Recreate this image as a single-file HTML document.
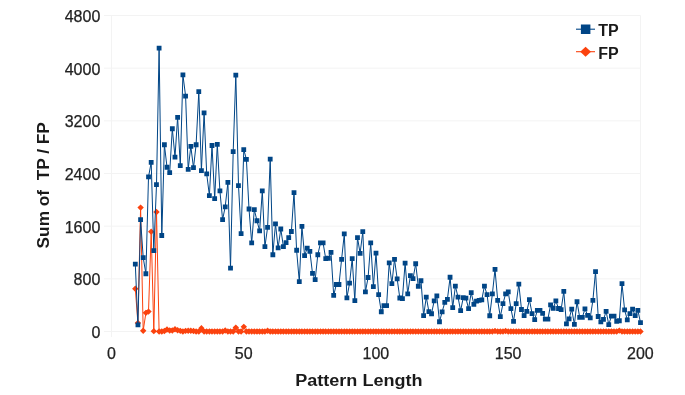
<!DOCTYPE html>
<html><head><meta charset="utf-8"><title>Sum of TP / FP by Pattern Length</title>
<style>html,body{margin:0;padding:0;background:#fff}svg{display:block;font-family:"Liberation Sans",Arial,sans-serif}</style></head><body>
<svg width="685" height="395" viewBox="0 0 685 395">
<rect width="685" height="395" fill="#fff"/>
<path d="M104,331.50H640.5 M104,278.83H640.5 M104,226.17H640.5 M104,173.50H640.5 M104,120.83H640.5 M104,68.17H640.5 M104,15.50H640.5 M111.5,15.5V337 M640.5,15.5V337 M243.75,331.5V337 M376.00,331.5V337 M508.25,331.5V337" stroke="#f3f3f3" stroke-width="1" fill="none"/>
<g font-size="16" fill="#222" stroke="#222" stroke-width="0.25" text-anchor="end">
<text x="100.3" y="338.1">0</text>
<text x="100.3" y="285.4">800</text>
<text x="100.3" y="232.8">1600</text>
<text x="100.3" y="180.1">2400</text>
<text x="100.3" y="127.4">3200</text>
<text x="100.3" y="74.8">4000</text>
<text x="100.3" y="22.1">4800</text>
</g>
<g font-size="16" fill="#222" stroke="#222" stroke-width="0.25" text-anchor="middle">
<text x="111.4" y="358.9">0</text>
<text x="243.7" y="358.9">50</text>
<text x="375.9" y="358.9">100</text>
<text x="508.1" y="358.9">150</text>
<text x="640.4" y="358.9">200</text>
</g>
<text x="358.9" y="385.7" font-size="17.2" font-weight="bold" fill="#1a1a1a" text-anchor="middle" textLength="127.4" lengthAdjust="spacingAndGlyphs">Pattern Length</text>
<text transform="translate(48.5,185.3) rotate(-90)" font-size="17.2" font-weight="bold" fill="#1a1a1a" text-anchor="middle" textLength="126.2" lengthAdjust="spacingAndGlyphs" style="white-space:pre">Sum of  TP / FP</text>
<polyline points="135.3,288.7 137.9,322.9 140.6,207.6 143.2,330.7 145.9,312.9 148.5,311.6 151.2,231.6 153.8,331.2 156.5,211.9 159.1,331.5 161.8,331.5 164.4,331.0 167.0,329.5 169.7,330.5 172.3,330.5 175.0,329.2 177.6,330.2 180.3,330.8 182.9,331.5 185.6,330.8 188.2,330.7 190.8,330.7 193.5,331.0 196.1,331.5 198.8,331.5 201.4,328.3 204.1,331.5 206.7,331.5 209.4,331.5 212.0,331.5 214.7,331.5 217.3,331.5 219.9,331.5 222.6,331.5 225.2,330.5 227.9,331.5 230.5,331.5 233.2,331.5 235.8,327.6 238.5,331.5 241.1,331.5 243.8,326.8 246.4,331.5 249.0,331.5 251.7,331.5 254.3,331.5 257.0,331.5 259.6,331.5 262.3,331.5 264.9,331.5 267.6,330.7 270.2,331.5 272.8,331.5 275.5,331.5 278.1,331.5 280.8,331.5 283.4,331.5 286.1,331.5 288.7,331.5 291.4,331.5 294.0,331.5 296.6,331.5 299.3,331.5 301.9,331.5 304.6,331.5 307.2,331.5 309.9,331.5 312.5,331.5 315.2,331.5 317.8,331.5 320.5,331.5 323.1,331.5 325.7,331.5 328.4,331.5 331.0,331.5 333.7,331.5 336.3,331.5 339.0,331.5 341.6,331.5 344.3,331.5 346.9,331.5 349.6,331.5 352.2,331.5 354.8,331.5 357.5,331.5 360.1,331.5 362.8,331.5 365.4,331.5 368.1,331.5 370.7,331.5 373.4,331.5 376.0,331.5 378.6,331.5 381.3,331.5 383.9,331.5 386.6,331.5 389.2,331.5 391.9,331.5 394.5,331.5 397.2,331.5 399.8,331.5 402.4,331.5 405.1,331.5 407.7,331.5 410.4,331.5 413.0,331.5 415.7,331.5 418.3,331.5 421.0,331.5 423.6,331.5 426.3,331.5 428.9,331.5 431.5,331.5 434.2,331.5 436.8,331.5 439.5,331.5 442.1,331.5 444.8,331.5 447.4,331.5 450.1,331.5 452.7,331.5 455.4,331.5 458.0,331.5 460.6,331.5 463.3,331.5 465.9,331.5 468.6,331.5 471.2,331.5 473.9,331.5 476.5,331.5 479.2,331.5 481.8,331.5 484.4,331.5 487.1,331.5 489.7,331.5 492.4,331.5 495.0,331.0 497.7,331.5 500.3,331.5 503.0,331.5 505.6,331.0 508.2,331.5 510.9,331.5 513.5,331.5 516.2,331.5 518.8,331.5 521.5,331.5 524.1,331.5 526.8,331.5 529.4,331.5 532.1,331.5 534.7,331.5 537.3,331.5 540.0,331.5 542.6,331.5 545.3,331.5 547.9,331.5 550.6,331.5 553.2,331.5 555.9,331.5 558.5,331.5 561.1,331.5 563.8,331.5 566.4,331.5 569.1,331.5 571.7,331.5 574.4,331.5 577.0,331.5 579.7,331.5 582.3,331.5 585.0,331.5 587.6,331.5 590.2,331.5 592.9,331.5 595.5,331.5 598.2,331.5 600.8,331.5 603.5,331.5 606.1,331.5 608.8,331.5 611.4,331.5 614.0,331.5 616.7,331.5 619.3,330.6 622.0,331.5 624.6,331.5 627.3,331.5 629.9,331.5 632.6,331.5 635.2,331.5 637.9,331.5 640.5,331.5" fill="none" stroke="#fb420e" stroke-width="1" stroke-linejoin="round"/>
<path d="M135.3,285.51l3.2,3.2l-3.2,3.2l-3.2,-3.2zM137.9,319.74l3.2,3.2l-3.2,3.2l-3.2,-3.2zM140.6,204.40l3.2,3.2l-3.2,3.2l-3.2,-3.2zM143.2,327.51l3.2,3.2l-3.2,3.2l-3.2,-3.2zM145.9,309.67l3.2,3.2l-3.2,3.2l-3.2,-3.2zM148.5,308.42l3.2,3.2l-3.2,3.2l-3.2,-3.2zM151.2,228.43l3.2,3.2l-3.2,3.2l-3.2,-3.2zM153.8,327.97l3.2,3.2l-3.2,3.2l-3.2,-3.2zM156.5,208.75l3.2,3.2l-3.2,3.2l-3.2,-3.2zM159.1,328.30l3.2,3.2l-3.2,3.2l-3.2,-3.2zM161.8,328.30l3.2,3.2l-3.2,3.2l-3.2,-3.2zM164.4,327.77l3.2,3.2l-3.2,3.2l-3.2,-3.2zM167.0,326.32l3.2,3.2l-3.2,3.2l-3.2,-3.2zM169.7,327.31l3.2,3.2l-3.2,3.2l-3.2,-3.2zM172.3,327.31l3.2,3.2l-3.2,3.2l-3.2,-3.2zM175.0,326.00l3.2,3.2l-3.2,3.2l-3.2,-3.2zM177.6,326.98l3.2,3.2l-3.2,3.2l-3.2,-3.2zM180.3,327.64l3.2,3.2l-3.2,3.2l-3.2,-3.2zM182.9,328.30l3.2,3.2l-3.2,3.2l-3.2,-3.2zM185.6,327.64l3.2,3.2l-3.2,3.2l-3.2,-3.2zM188.2,327.51l3.2,3.2l-3.2,3.2l-3.2,-3.2zM190.8,327.51l3.2,3.2l-3.2,3.2l-3.2,-3.2zM193.5,327.77l3.2,3.2l-3.2,3.2l-3.2,-3.2zM196.1,328.30l3.2,3.2l-3.2,3.2l-3.2,-3.2zM198.8,328.30l3.2,3.2l-3.2,3.2l-3.2,-3.2zM201.4,325.07l3.2,3.2l-3.2,3.2l-3.2,-3.2zM204.1,328.30l3.2,3.2l-3.2,3.2l-3.2,-3.2zM206.7,328.30l3.2,3.2l-3.2,3.2l-3.2,-3.2zM209.4,328.30l3.2,3.2l-3.2,3.2l-3.2,-3.2zM212.0,328.30l3.2,3.2l-3.2,3.2l-3.2,-3.2zM214.7,328.30l3.2,3.2l-3.2,3.2l-3.2,-3.2zM217.3,328.30l3.2,3.2l-3.2,3.2l-3.2,-3.2zM219.9,328.30l3.2,3.2l-3.2,3.2l-3.2,-3.2zM222.6,328.30l3.2,3.2l-3.2,3.2l-3.2,-3.2zM225.2,327.31l3.2,3.2l-3.2,3.2l-3.2,-3.2zM227.9,328.30l3.2,3.2l-3.2,3.2l-3.2,-3.2zM230.5,328.30l3.2,3.2l-3.2,3.2l-3.2,-3.2zM233.2,328.30l3.2,3.2l-3.2,3.2l-3.2,-3.2zM235.8,324.42l3.2,3.2l-3.2,3.2l-3.2,-3.2zM238.5,328.30l3.2,3.2l-3.2,3.2l-3.2,-3.2zM241.1,328.30l3.2,3.2l-3.2,3.2l-3.2,-3.2zM243.8,323.63l3.2,3.2l-3.2,3.2l-3.2,-3.2zM246.4,328.30l3.2,3.2l-3.2,3.2l-3.2,-3.2zM249.0,328.30l3.2,3.2l-3.2,3.2l-3.2,-3.2zM251.7,328.30l3.2,3.2l-3.2,3.2l-3.2,-3.2zM254.3,328.30l3.2,3.2l-3.2,3.2l-3.2,-3.2zM257.0,328.30l3.2,3.2l-3.2,3.2l-3.2,-3.2zM259.6,328.30l3.2,3.2l-3.2,3.2l-3.2,-3.2zM262.3,328.30l3.2,3.2l-3.2,3.2l-3.2,-3.2zM264.9,328.30l3.2,3.2l-3.2,3.2l-3.2,-3.2zM267.6,327.51l3.2,3.2l-3.2,3.2l-3.2,-3.2zM270.2,328.30l3.2,3.2l-3.2,3.2l-3.2,-3.2zM272.8,328.30l3.2,3.2l-3.2,3.2l-3.2,-3.2zM275.5,328.30l3.2,3.2l-3.2,3.2l-3.2,-3.2zM278.1,328.30l3.2,3.2l-3.2,3.2l-3.2,-3.2zM280.8,328.30l3.2,3.2l-3.2,3.2l-3.2,-3.2zM283.4,328.30l3.2,3.2l-3.2,3.2l-3.2,-3.2zM286.1,328.30l3.2,3.2l-3.2,3.2l-3.2,-3.2zM288.7,328.30l3.2,3.2l-3.2,3.2l-3.2,-3.2zM291.4,328.30l3.2,3.2l-3.2,3.2l-3.2,-3.2zM294.0,328.30l3.2,3.2l-3.2,3.2l-3.2,-3.2zM296.6,328.30l3.2,3.2l-3.2,3.2l-3.2,-3.2zM299.3,328.30l3.2,3.2l-3.2,3.2l-3.2,-3.2zM301.9,328.30l3.2,3.2l-3.2,3.2l-3.2,-3.2zM304.6,328.30l3.2,3.2l-3.2,3.2l-3.2,-3.2zM307.2,328.30l3.2,3.2l-3.2,3.2l-3.2,-3.2zM309.9,328.30l3.2,3.2l-3.2,3.2l-3.2,-3.2zM312.5,328.30l3.2,3.2l-3.2,3.2l-3.2,-3.2zM315.2,328.30l3.2,3.2l-3.2,3.2l-3.2,-3.2zM317.8,328.30l3.2,3.2l-3.2,3.2l-3.2,-3.2zM320.5,328.30l3.2,3.2l-3.2,3.2l-3.2,-3.2zM323.1,328.30l3.2,3.2l-3.2,3.2l-3.2,-3.2zM325.7,328.30l3.2,3.2l-3.2,3.2l-3.2,-3.2zM328.4,328.30l3.2,3.2l-3.2,3.2l-3.2,-3.2zM331.0,328.30l3.2,3.2l-3.2,3.2l-3.2,-3.2zM333.7,328.30l3.2,3.2l-3.2,3.2l-3.2,-3.2zM336.3,328.30l3.2,3.2l-3.2,3.2l-3.2,-3.2zM339.0,328.30l3.2,3.2l-3.2,3.2l-3.2,-3.2zM341.6,328.30l3.2,3.2l-3.2,3.2l-3.2,-3.2zM344.3,328.30l3.2,3.2l-3.2,3.2l-3.2,-3.2zM346.9,328.30l3.2,3.2l-3.2,3.2l-3.2,-3.2zM349.6,328.30l3.2,3.2l-3.2,3.2l-3.2,-3.2zM352.2,328.30l3.2,3.2l-3.2,3.2l-3.2,-3.2zM354.8,328.30l3.2,3.2l-3.2,3.2l-3.2,-3.2zM357.5,328.30l3.2,3.2l-3.2,3.2l-3.2,-3.2zM360.1,328.30l3.2,3.2l-3.2,3.2l-3.2,-3.2zM362.8,328.30l3.2,3.2l-3.2,3.2l-3.2,-3.2zM365.4,328.30l3.2,3.2l-3.2,3.2l-3.2,-3.2zM368.1,328.30l3.2,3.2l-3.2,3.2l-3.2,-3.2zM370.7,328.30l3.2,3.2l-3.2,3.2l-3.2,-3.2zM373.4,328.30l3.2,3.2l-3.2,3.2l-3.2,-3.2zM376.0,328.30l3.2,3.2l-3.2,3.2l-3.2,-3.2zM378.6,328.30l3.2,3.2l-3.2,3.2l-3.2,-3.2zM381.3,328.30l3.2,3.2l-3.2,3.2l-3.2,-3.2zM383.9,328.30l3.2,3.2l-3.2,3.2l-3.2,-3.2zM386.6,328.30l3.2,3.2l-3.2,3.2l-3.2,-3.2zM389.2,328.30l3.2,3.2l-3.2,3.2l-3.2,-3.2zM391.9,328.30l3.2,3.2l-3.2,3.2l-3.2,-3.2zM394.5,328.30l3.2,3.2l-3.2,3.2l-3.2,-3.2zM397.2,328.30l3.2,3.2l-3.2,3.2l-3.2,-3.2zM399.8,328.30l3.2,3.2l-3.2,3.2l-3.2,-3.2zM402.4,328.30l3.2,3.2l-3.2,3.2l-3.2,-3.2zM405.1,328.30l3.2,3.2l-3.2,3.2l-3.2,-3.2zM407.7,328.30l3.2,3.2l-3.2,3.2l-3.2,-3.2zM410.4,328.30l3.2,3.2l-3.2,3.2l-3.2,-3.2zM413.0,328.30l3.2,3.2l-3.2,3.2l-3.2,-3.2zM415.7,328.30l3.2,3.2l-3.2,3.2l-3.2,-3.2zM418.3,328.30l3.2,3.2l-3.2,3.2l-3.2,-3.2zM421.0,328.30l3.2,3.2l-3.2,3.2l-3.2,-3.2zM423.6,328.30l3.2,3.2l-3.2,3.2l-3.2,-3.2zM426.3,328.30l3.2,3.2l-3.2,3.2l-3.2,-3.2zM428.9,328.30l3.2,3.2l-3.2,3.2l-3.2,-3.2zM431.5,328.30l3.2,3.2l-3.2,3.2l-3.2,-3.2zM434.2,328.30l3.2,3.2l-3.2,3.2l-3.2,-3.2zM436.8,328.30l3.2,3.2l-3.2,3.2l-3.2,-3.2zM439.5,328.30l3.2,3.2l-3.2,3.2l-3.2,-3.2zM442.1,328.30l3.2,3.2l-3.2,3.2l-3.2,-3.2zM444.8,328.30l3.2,3.2l-3.2,3.2l-3.2,-3.2zM447.4,328.30l3.2,3.2l-3.2,3.2l-3.2,-3.2zM450.1,328.30l3.2,3.2l-3.2,3.2l-3.2,-3.2zM452.7,328.30l3.2,3.2l-3.2,3.2l-3.2,-3.2zM455.4,328.30l3.2,3.2l-3.2,3.2l-3.2,-3.2zM458.0,328.30l3.2,3.2l-3.2,3.2l-3.2,-3.2zM460.6,328.30l3.2,3.2l-3.2,3.2l-3.2,-3.2zM463.3,328.30l3.2,3.2l-3.2,3.2l-3.2,-3.2zM465.9,328.30l3.2,3.2l-3.2,3.2l-3.2,-3.2zM468.6,328.30l3.2,3.2l-3.2,3.2l-3.2,-3.2zM471.2,328.30l3.2,3.2l-3.2,3.2l-3.2,-3.2zM473.9,328.30l3.2,3.2l-3.2,3.2l-3.2,-3.2zM476.5,328.30l3.2,3.2l-3.2,3.2l-3.2,-3.2zM479.2,328.30l3.2,3.2l-3.2,3.2l-3.2,-3.2zM481.8,328.30l3.2,3.2l-3.2,3.2l-3.2,-3.2zM484.4,328.30l3.2,3.2l-3.2,3.2l-3.2,-3.2zM487.1,328.30l3.2,3.2l-3.2,3.2l-3.2,-3.2zM489.7,328.30l3.2,3.2l-3.2,3.2l-3.2,-3.2zM492.4,328.30l3.2,3.2l-3.2,3.2l-3.2,-3.2zM495.0,327.77l3.2,3.2l-3.2,3.2l-3.2,-3.2zM497.7,328.30l3.2,3.2l-3.2,3.2l-3.2,-3.2zM500.3,328.30l3.2,3.2l-3.2,3.2l-3.2,-3.2zM503.0,328.30l3.2,3.2l-3.2,3.2l-3.2,-3.2zM505.6,327.77l3.2,3.2l-3.2,3.2l-3.2,-3.2zM508.2,328.30l3.2,3.2l-3.2,3.2l-3.2,-3.2zM510.9,328.30l3.2,3.2l-3.2,3.2l-3.2,-3.2zM513.5,328.30l3.2,3.2l-3.2,3.2l-3.2,-3.2zM516.2,328.30l3.2,3.2l-3.2,3.2l-3.2,-3.2zM518.8,328.30l3.2,3.2l-3.2,3.2l-3.2,-3.2zM521.5,328.30l3.2,3.2l-3.2,3.2l-3.2,-3.2zM524.1,328.30l3.2,3.2l-3.2,3.2l-3.2,-3.2zM526.8,328.30l3.2,3.2l-3.2,3.2l-3.2,-3.2zM529.4,328.30l3.2,3.2l-3.2,3.2l-3.2,-3.2zM532.1,328.30l3.2,3.2l-3.2,3.2l-3.2,-3.2zM534.7,328.30l3.2,3.2l-3.2,3.2l-3.2,-3.2zM537.3,328.30l3.2,3.2l-3.2,3.2l-3.2,-3.2zM540.0,328.30l3.2,3.2l-3.2,3.2l-3.2,-3.2zM542.6,328.30l3.2,3.2l-3.2,3.2l-3.2,-3.2zM545.3,328.30l3.2,3.2l-3.2,3.2l-3.2,-3.2zM547.9,328.30l3.2,3.2l-3.2,3.2l-3.2,-3.2zM550.6,328.30l3.2,3.2l-3.2,3.2l-3.2,-3.2zM553.2,328.30l3.2,3.2l-3.2,3.2l-3.2,-3.2zM555.9,328.30l3.2,3.2l-3.2,3.2l-3.2,-3.2zM558.5,328.30l3.2,3.2l-3.2,3.2l-3.2,-3.2zM561.1,328.30l3.2,3.2l-3.2,3.2l-3.2,-3.2zM563.8,328.30l3.2,3.2l-3.2,3.2l-3.2,-3.2zM566.4,328.30l3.2,3.2l-3.2,3.2l-3.2,-3.2zM569.1,328.30l3.2,3.2l-3.2,3.2l-3.2,-3.2zM571.7,328.30l3.2,3.2l-3.2,3.2l-3.2,-3.2zM574.4,328.30l3.2,3.2l-3.2,3.2l-3.2,-3.2zM577.0,328.30l3.2,3.2l-3.2,3.2l-3.2,-3.2zM579.7,328.30l3.2,3.2l-3.2,3.2l-3.2,-3.2zM582.3,328.30l3.2,3.2l-3.2,3.2l-3.2,-3.2zM585.0,328.30l3.2,3.2l-3.2,3.2l-3.2,-3.2zM587.6,328.30l3.2,3.2l-3.2,3.2l-3.2,-3.2zM590.2,328.30l3.2,3.2l-3.2,3.2l-3.2,-3.2zM592.9,328.30l3.2,3.2l-3.2,3.2l-3.2,-3.2zM595.5,328.30l3.2,3.2l-3.2,3.2l-3.2,-3.2zM598.2,328.30l3.2,3.2l-3.2,3.2l-3.2,-3.2zM600.8,328.30l3.2,3.2l-3.2,3.2l-3.2,-3.2zM603.5,328.30l3.2,3.2l-3.2,3.2l-3.2,-3.2zM606.1,328.30l3.2,3.2l-3.2,3.2l-3.2,-3.2zM608.8,328.30l3.2,3.2l-3.2,3.2l-3.2,-3.2zM611.4,328.30l3.2,3.2l-3.2,3.2l-3.2,-3.2zM614.0,328.30l3.2,3.2l-3.2,3.2l-3.2,-3.2zM616.7,328.30l3.2,3.2l-3.2,3.2l-3.2,-3.2zM619.3,327.38l3.2,3.2l-3.2,3.2l-3.2,-3.2zM622.0,328.30l3.2,3.2l-3.2,3.2l-3.2,-3.2zM624.6,328.30l3.2,3.2l-3.2,3.2l-3.2,-3.2zM627.3,328.30l3.2,3.2l-3.2,3.2l-3.2,-3.2zM629.9,328.30l3.2,3.2l-3.2,3.2l-3.2,-3.2zM632.6,328.30l3.2,3.2l-3.2,3.2l-3.2,-3.2zM635.2,328.30l3.2,3.2l-3.2,3.2l-3.2,-3.2zM637.9,328.30l3.2,3.2l-3.2,3.2l-3.2,-3.2zM640.5,328.30l3.2,3.2l-3.2,3.2l-3.2,-3.2z" fill="#fb420e"/>
<polyline points="135.3,264.1 137.9,324.8 140.6,219.7 143.2,257.6 145.9,273.8 148.5,176.9 151.2,162.4 153.8,250.7 156.5,184.7 159.1,48.2 161.8,235.5 164.4,144.7 167.0,167.2 169.7,172.6 172.3,128.7 175.0,157.0 177.6,117.4 180.3,165.6 182.9,74.8 185.6,96.1 188.2,169.3 190.8,146.4 193.5,167.7 196.1,144.7 198.8,91.7 201.4,170.5 204.1,112.9 206.7,173.8 209.4,195.6 212.0,145.5 214.7,198.6 217.3,144.3 219.9,190.8 222.6,219.7 225.2,206.8 227.9,182.5 230.5,268.0 233.2,151.7 235.8,75.1 238.5,185.6 241.1,233.7 243.8,149.7 246.4,159.3 249.0,209.0 251.7,242.9 254.3,209.7 257.0,220.8 259.6,230.8 262.3,190.9 264.9,246.7 267.6,227.4 270.2,159.1 272.8,254.7 275.5,223.9 278.1,247.9 280.8,229.0 283.4,246.6 286.1,242.6 288.7,237.6 291.4,231.5 294.0,192.5 296.6,250.3 299.3,281.6 301.9,226.4 304.6,255.6 307.2,248.2 309.9,251.4 312.5,273.4 315.2,279.6 317.8,254.7 320.5,242.9 323.1,242.9 325.7,258.6 328.4,258.2 331.0,252.3 333.7,295.4 336.3,284.5 339.0,284.5 341.6,259.3 344.3,233.9 346.9,297.8 349.6,283.0 352.2,258.6 354.8,300.7 357.5,237.6 360.1,253.3 362.8,231.7 365.4,291.9 368.1,277.5 370.7,242.9 373.4,286.5 376.0,253.1 378.6,294.7 381.3,311.8 383.9,305.6 386.6,305.6 389.2,263.0 391.9,283.6 394.5,259.3 397.2,279.0 399.8,298.0 402.4,298.6 405.1,263.1 407.7,293.8 410.4,275.6 413.0,278.7 415.7,263.8 418.3,286.3 421.0,280.7 423.6,315.6 426.3,297.1 428.9,311.7 431.5,313.7 434.2,300.8 436.8,295.9 439.5,321.8 442.1,311.9 444.8,302.5 447.4,299.4 450.1,277.3 452.7,307.6 455.4,286.1 458.0,297.1 460.6,310.7 463.3,297.5 465.9,298.2 468.6,308.6 471.2,292.7 473.9,304.3 476.5,301.2 479.2,300.4 481.8,299.8 484.4,286.1 487.1,294.7 489.7,315.8 492.4,293.8 495.0,269.3 497.7,300.4 500.3,316.6 503.0,303.7 505.6,293.8 508.2,291.8 510.9,308.6 513.5,321.3 516.2,303.7 518.8,284.0 521.5,309.5 524.1,315.7 526.8,311.4 529.4,299.7 532.1,313.6 534.7,319.6 537.3,310.4 540.0,310.4 542.6,313.4 545.3,319.1 547.9,319.1 550.6,304.8 553.2,308.3 555.9,300.9 558.5,308.5 561.1,309.7 563.8,291.5 566.4,323.9 569.1,318.9 571.7,309.1 574.4,324.5 577.0,301.7 579.7,317.3 582.3,317.3 585.0,308.9 587.6,315.4 590.2,317.9 592.9,300.3 595.5,271.6 598.2,316.5 600.8,321.8 603.5,319.4 606.1,311.4 608.8,324.7 611.4,316.1 614.0,316.1 616.7,321.2 619.3,320.8 622.0,283.7 624.6,309.9 627.3,319.8 629.9,313.6 632.6,309.1 635.2,315.7 637.9,310.4 640.5,322.6" fill="none" stroke="#004586" stroke-width="1" stroke-linejoin="round"/>
<path d="M132.91,261.69h4.8v4.8h-4.8zM135.55,322.39h4.8v4.8h-4.8zM138.19,217.32h4.8v4.8h-4.8zM140.84,255.23h4.8v4.8h-4.8zM143.48,271.36h4.8v4.8h-4.8zM146.13,174.52h4.8v4.8h-4.8zM148.78,159.97h4.8v4.8h-4.8zM151.42,248.26h4.8v4.8h-4.8zM154.06,182.29h4.8v4.8h-4.8zM156.71,45.82h4.8v4.8h-4.8zM159.35,233.12h4.8v4.8h-4.8zM162.00,142.33h4.8v4.8h-4.8zM164.65,164.85h4.8v4.8h-4.8zM167.29,170.18h4.8v4.8h-4.8zM169.94,126.33h4.8v4.8h-4.8zM172.58,154.64h4.8v4.8h-4.8zM175.22,115.01h4.8v4.8h-4.8zM177.87,163.20h4.8v4.8h-4.8zM180.52,72.42h4.8v4.8h-4.8zM183.16,93.75h4.8v4.8h-4.8zM185.80,166.89h4.8v4.8h-4.8zM188.45,143.98h4.8v4.8h-4.8zM191.09,165.31h4.8v4.8h-4.8zM193.74,142.33h4.8v4.8h-4.8zM196.38,89.27h4.8v4.8h-4.8zM199.03,168.14h4.8v4.8h-4.8zM201.67,110.53h4.8v4.8h-4.8zM204.32,171.43h4.8v4.8h-4.8zM206.97,193.22h4.8v4.8h-4.8zM209.61,143.12h4.8v4.8h-4.8zM212.25,196.18h4.8v4.8h-4.8zM214.90,141.94h4.8v4.8h-4.8zM217.54,188.41h4.8v4.8h-4.8zM220.19,217.32h4.8v4.8h-4.8zM222.84,204.41h4.8v4.8h-4.8zM225.48,180.05h4.8v4.8h-4.8zM228.12,265.64h4.8v4.8h-4.8zM230.77,149.31h4.8v4.8h-4.8zM233.41,72.68h4.8v4.8h-4.8zM236.06,183.21h4.8v4.8h-4.8zM238.70,231.27h4.8v4.8h-4.8zM241.35,147.27h4.8v4.8h-4.8zM244.00,156.88h4.8v4.8h-4.8zM246.64,206.58h4.8v4.8h-4.8zM249.28,240.49h4.8v4.8h-4.8zM251.93,207.31h4.8v4.8h-4.8zM254.58,218.37h4.8v4.8h-4.8zM257.22,228.38h4.8v4.8h-4.8zM259.87,188.48h4.8v4.8h-4.8zM262.51,244.31h4.8v4.8h-4.8zM265.16,225.02h4.8v4.8h-4.8zM267.80,156.68h4.8v4.8h-4.8zM270.45,252.34h4.8v4.8h-4.8zM273.09,221.53h4.8v4.8h-4.8zM275.74,245.49h4.8v4.8h-4.8zM278.38,226.60h4.8v4.8h-4.8zM281.03,244.24h4.8v4.8h-4.8zM283.67,240.16h4.8v4.8h-4.8zM286.32,235.22h4.8v4.8h-4.8zM288.96,229.10h4.8v4.8h-4.8zM291.61,190.13h4.8v4.8h-4.8zM294.25,247.86h4.8v4.8h-4.8zM296.89,279.20h4.8v4.8h-4.8zM299.54,223.96h4.8v4.8h-4.8zM302.19,253.19h4.8v4.8h-4.8zM304.83,245.82h4.8v4.8h-4.8zM307.48,249.05h4.8v4.8h-4.8zM310.12,271.04h4.8v4.8h-4.8zM312.76,277.16h4.8v4.8h-4.8zM315.41,252.34h4.8v4.8h-4.8zM318.06,240.49h4.8v4.8h-4.8zM320.70,240.49h4.8v4.8h-4.8zM323.35,256.22h4.8v4.8h-4.8zM325.99,255.83h4.8v4.8h-4.8zM328.63,249.90h4.8v4.8h-4.8zM331.28,292.96h4.8v4.8h-4.8zM333.93,282.10h4.8v4.8h-4.8zM336.57,282.10h4.8v4.8h-4.8zM339.22,256.88h4.8v4.8h-4.8zM341.86,231.53h4.8v4.8h-4.8zM344.50,295.39h4.8v4.8h-4.8zM347.15,280.65h4.8v4.8h-4.8zM349.80,256.22h4.8v4.8h-4.8zM352.44,298.29h4.8v4.8h-4.8zM355.09,235.22h4.8v4.8h-4.8zM357.73,250.89h4.8v4.8h-4.8zM360.38,229.30h4.8v4.8h-4.8zM363.02,289.47h4.8v4.8h-4.8zM365.67,275.12h4.8v4.8h-4.8zM368.31,240.49h4.8v4.8h-4.8zM370.96,284.14h4.8v4.8h-4.8zM373.60,250.69h4.8v4.8h-4.8zM376.25,292.30h4.8v4.8h-4.8zM378.89,309.35h4.8v4.8h-4.8zM381.54,303.16h4.8v4.8h-4.8zM384.18,303.16h4.8v4.8h-4.8zM386.83,260.57h4.8v4.8h-4.8zM389.47,281.24h4.8v4.8h-4.8zM392.12,256.88h4.8v4.8h-4.8zM394.76,276.57h4.8v4.8h-4.8zM397.41,295.59h4.8v4.8h-4.8zM400.05,296.18h4.8v4.8h-4.8zM402.70,260.70h4.8v4.8h-4.8zM405.34,291.44h4.8v4.8h-4.8zM407.99,273.21h4.8v4.8h-4.8zM410.63,276.30h4.8v4.8h-4.8zM413.28,261.36h4.8v4.8h-4.8zM415.92,283.87h4.8v4.8h-4.8zM418.56,278.34h4.8v4.8h-4.8zM421.21,313.17h4.8v4.8h-4.8zM423.86,294.74h4.8v4.8h-4.8zM426.50,309.28h4.8v4.8h-4.8zM429.15,311.33h4.8v4.8h-4.8zM431.79,298.42h4.8v4.8h-4.8zM434.44,293.48h4.8v4.8h-4.8zM437.08,319.36h4.8v4.8h-4.8zM439.73,309.48h4.8v4.8h-4.8zM442.37,300.07h4.8v4.8h-4.8zM445.02,296.97h4.8v4.8h-4.8zM447.66,274.85h4.8v4.8h-4.8zM450.31,305.20h4.8v4.8h-4.8zM452.95,283.68h4.8v4.8h-4.8zM455.60,294.74h4.8v4.8h-4.8zM458.24,308.30h4.8v4.8h-4.8zM460.89,295.13h4.8v4.8h-4.8zM463.53,295.79h4.8v4.8h-4.8zM466.18,306.19h4.8v4.8h-4.8zM468.82,290.26h4.8v4.8h-4.8zM471.47,301.91h4.8v4.8h-4.8zM474.11,298.82h4.8v4.8h-4.8zM476.76,298.03h4.8v4.8h-4.8zM479.40,297.43h4.8v4.8h-4.8zM482.05,283.68h4.8v4.8h-4.8zM484.69,292.30h4.8v4.8h-4.8zM487.34,313.37h4.8v4.8h-4.8zM489.98,291.44h4.8v4.8h-4.8zM492.62,266.89h4.8v4.8h-4.8zM495.27,298.03h4.8v4.8h-4.8zM497.92,314.22h4.8v4.8h-4.8zM500.56,301.32h4.8v4.8h-4.8zM503.21,291.44h4.8v4.8h-4.8zM505.85,289.40h4.8v4.8h-4.8zM508.50,306.19h4.8v4.8h-4.8zM511.14,318.90h4.8v4.8h-4.8zM513.78,301.32h4.8v4.8h-4.8zM516.43,281.63h4.8v4.8h-4.8zM519.08,307.11h4.8v4.8h-4.8zM521.72,313.30h4.8v4.8h-4.8zM524.37,308.96h4.8v4.8h-4.8zM527.01,297.30h4.8v4.8h-4.8zM529.66,311.19h4.8v4.8h-4.8zM532.30,317.18h4.8v4.8h-4.8zM534.95,307.97h4.8v4.8h-4.8zM537.59,307.97h4.8v4.8h-4.8zM540.24,311.00h4.8v4.8h-4.8zM542.88,316.72h4.8v4.8h-4.8zM545.52,316.72h4.8v4.8h-4.8zM548.17,302.44h4.8v4.8h-4.8zM550.81,305.86h4.8v4.8h-4.8zM553.46,298.49h4.8v4.8h-4.8zM556.11,306.12h4.8v4.8h-4.8zM558.75,307.31h4.8v4.8h-4.8zM561.40,289.07h4.8v4.8h-4.8zM564.04,321.46h4.8v4.8h-4.8zM566.69,316.53h4.8v4.8h-4.8zM569.33,306.72h4.8v4.8h-4.8zM571.98,322.06h4.8v4.8h-4.8zM574.62,299.34h4.8v4.8h-4.8zM577.26,314.88h4.8v4.8h-4.8zM579.91,314.88h4.8v4.8h-4.8zM582.55,306.52h4.8v4.8h-4.8zM585.20,313.04h4.8v4.8h-4.8zM587.85,315.54h4.8v4.8h-4.8zM590.49,297.90h4.8v4.8h-4.8zM593.14,269.19h4.8v4.8h-4.8zM595.78,314.09h4.8v4.8h-4.8zM598.43,319.42h4.8v4.8h-4.8zM601.07,316.99h4.8v4.8h-4.8zM603.72,308.96h4.8v4.8h-4.8zM606.36,322.32h4.8v4.8h-4.8zM609.00,313.70h4.8v4.8h-4.8zM611.65,313.70h4.8v4.8h-4.8zM614.29,318.83h4.8v4.8h-4.8zM616.94,318.37h4.8v4.8h-4.8zM619.59,281.31h4.8v4.8h-4.8zM622.23,307.51h4.8v4.8h-4.8zM624.88,317.38h4.8v4.8h-4.8zM627.52,311.19h4.8v4.8h-4.8zM630.17,306.72h4.8v4.8h-4.8zM632.81,313.30h4.8v4.8h-4.8zM635.46,307.97h4.8v4.8h-4.8zM638.10,320.21h4.8v4.8h-4.8z" fill="#004586"/>
<path d="M576,29.2H595" stroke="#004586" stroke-width="1.1"/><rect x="580.9" y="24.5" width="9.5" height="9.5" fill="#004586"/>
<path d="M576,51.7H595" stroke="#fb420e" stroke-width="1.1"/><path d="M585.6,46.7l5.4,5l-5.4,5l-5.4,-5z" fill="#fb420e"/>
<g font-size="16" font-weight="bold" fill="#1a1a1a"><text x="598.3" y="36.2">TP</text><text x="598.3" y="58.9">FP</text></g>
</svg></body></html>
